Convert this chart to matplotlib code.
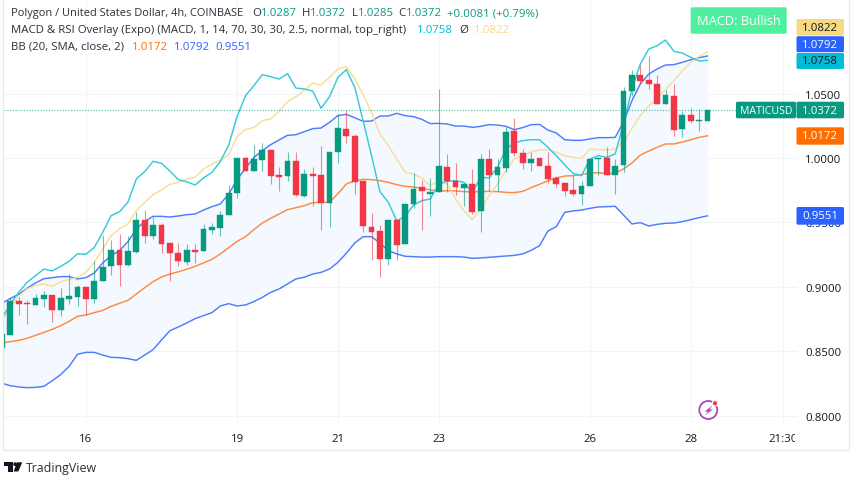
import matplotlib
matplotlib.use('Agg')
import matplotlib.pyplot as plt
from matplotlib.patches import Circle, FancyBboxPatch, Polygon
from matplotlib.transforms import Bbox

plt.rcParams['font.family'] = ['Open Sans', 'DejaVu Sans']

open_ = [.8522, .8628, .8890, .8874, .8861, .8908, .8936, .8820, .8908, .8923,
         .9001, .8903, .9042, .9159, .9286, .9172, .9268, .9521, .9394, .9482,
         .9340, .9262, .9195, .9286, .9275, .9444, .9459, .9555, .9731, 1.0003,
         .9899, .9987, 1.0060, .9865, .9858, .9977, .9708, .9876, .9865, .9648,
         1.0049, 1.0228, 1.0173, .9819, .9467, .9433, .9216, .9516, .9332, .9643,
         .9772, .9723, .9733, .9933, .9821, .9770, .9798, .9586, .9992, .9871,
         .9925, 1.0210, 1.0041, .9959, .9997, .9940, .9842, .9803, .9749, .9723,
         .9785, .9992, .9997, .9871, .9946, 1.0520, 1.0644, 1.0603, 1.0577, 1.0417,
         1.0481, 1.0225, 1.0331, 1.0290, 1.0287]
close = [.8631, .8887, .8866, .8866, .8910, .8936, .8820, .8913, .8926, .8998,
         .8905, .9045, .9154, .9286, .9169, .9275, .9516, .9394, .9480, .9335,
         .9260, .9200, .9286, .9273, .9446, .9464, .9557, .9731, 1.0000, .9902,
         .9992, 1.0060, .9863, .9852, .9977, .9710, .9876, .9860, .9651, 1.0047,
         1.0233, 1.0168, .9816, .9469, .9425, .9216, .9516, .9325, .9643, .9762,
         .9744, .9736, .9938, .9819, .9775, .9798, .9583, .9992, .9865, .9928,
         1.0202, 1.0039, .9961, .9990, .9940, .9840, .9801, .9746, .9720, .9785,
         .9992, .9997, .9871, .9940, 1.0518, 1.0644, 1.0600, 1.0572, 1.0417, 1.0489,
         1.0220, 1.0336, 1.0290, 1.0292, 1.0372]
high = [.8640, .8910, .8918, .8895, .8944, .8965, .8938, .8988, .9099, .9014,
        .9009, .9198, .9402, .9363, .9407, .9392, .9578, .9596, .9539, .9493,
        .9340, .9337, .9332, .9330, .9488, .9495, .9589, .9790, 1.0000, 1.0010,
        1.0101, 1.0114, 1.0065, .9928, 1.0047, 1.0047, .9915, .9930, 1.0091, 1.0047,
        1.0342, 1.0373, 1.0184, .9819, .9573, .9480, .9516, .9516, .9643, .9881,
        .9832, .9845, 1.0536, 1.0031, .9961, .9798, .9915, 1.0031, 1.0070, .9992,
        1.0238, 1.0313, 1.0070, 1.0047, .9997, 1.0044, .9858, .9816, .9868, .9824,
        .9992, .9997, 1.0083, .9992, 1.0554, 1.0683, 1.0722, 1.0795, 1.0647, 1.0528,
        1.0575, 1.0362, 1.0386, 1.0383, 1.0372]
low = [.8510, .8628, .8784, .8709, .8858, .8841, .8724, .8773, .8866, .8854,
       .8784, .8872, .9042, .9094, .9009, .9159, .9262, .9337, .9369, .9262,
       .9048, .9159, .9172, .9185, .9275, .9410, .9397, .9555, .9689, .9902,
       .9899, .9902, .9798, .9741, .9819, .9708, .9695, .9625, .9444, .9462,
       .9959, 1.0114, .9718, .9423, .9208, .9079, .9172, .9208, .9332, .9609,
       .9441, .9552, .9733, .9733, .9715, .9630, .9568, .9428, .9746, .9741,
       .9889, 1.0018, .9917, .9902, .9940, .9806, .9764, .9702, .9708, .9638,
       .9785, .9868, .9871, .9723, .9894, 1.0484, 1.0575, 1.0536, 1.0417, 1.0417,
       1.0168, 1.0163, 1.0269, 1.0212, 1.0285]

bb_upper = [.8872, .8910, .8942, .8988, .9030, .9063, .9071, .9079, .9079, .9061,
            .9071, .9107, .9185, .9242, .9281, .9350, .9449, .9508, .9547, .9547,
            .9542, .9550, .9560, .9565, .9596, .9622, .9643, .9720, .9832, .9920,
            1.0005, 1.0057, 1.0104, 1.0140, 1.0176, 1.0181, 1.0204, 1.0228, 1.0233, 1.0277,
            1.0329, 1.0339, 1.0313, 1.0285, 1.0287, 1.0326, 1.0326, 1.0347, 1.0329, 1.0321,
            1.0300, 1.0267, 1.0269, 1.0264, 1.0248, 1.0248, 1.0238, 1.0246, 1.0259, 1.0256,
            1.0246, 1.0220, 1.0236, 1.0259, 1.0261, 1.0217, 1.0194, 1.0142, 1.0137, 1.0137,
            1.0148, 1.0158, 1.0158, 1.0160, 1.0277, 1.0445, 1.0575, 1.0652, 1.0691, 1.0722,
            1.0725, 1.0743, 1.0763, 1.0779, 1.0792]
bb_mid = [.8564, .8574, .8584, .8600, .8623, .8646, .8670, .8698, .8732, .8771,
          .8781, .8799, .8817, .8848, .8872, .8895, .8944, .8993, .9040, .9076,
          .9099, .9117, .9136, .9159, .9185, .9213, .9255, .9304, .9353, .9389,
          .9444, .9495, .9532, .9565, .9599, .9614, .9630, .9653, .9656, .9656,
          .9723, .9798, .9824, .9834, .9832, .9824, .9811, .9793, .9780, .9775,
          .9764, .9752, .9744, .9746, .9744, .9739, .9736, .9739, .9741, .9739,
          .9733, .9731, .9741, .9770, .9796, .9824, .9845, .9860, .9863, .9871,
          .9884, .9886, .9878, .9881, .9915, .9961, 1.0023, 1.0054, 1.0083, 1.0109,
          1.0109, 1.0124, 1.0142, 1.0160, 1.0172]
bb_lower = [.8251, .8232, .8222, .8217, .8219, .8227, .8271, .8318, .8382, .8476,
            .8491, .8491, .8470, .8452, .8450, .8442, .8429, .8470, .8512, .8587,
            .8659, .8688, .8719, .8753, .8776, .8799, .8851, .8869, .8851, .8859,
            .8885, .8918, .8957, .8983, .9022, .9061, .9074, .9099, .9112, .9138,
            .9190, .9260, .9340, .9389, .9389, .9340, .9281, .9255, .9237, .9234,
            .9231, .9231, .9234, .9234, .9234, .9231, .9221, .9224, .9229, .9234,
            .9239, .9244, .9255, .9283, .9319, .9433, .9467, .9578, .9589, .9596,
            .9609, .9620, .9622, .9625, .9557, .9488, .9498, .9472, .9485, .9493,
            .9495, .9506, .9521, .9537, .9551]
macd_line = [.8755, .8866, .8957, .9035, .9086, .9138, .9123, .9159, .9198, .9257,
             .9252, .9306, .9423, .9552, .9583, .9656, .9837, .9894, .9974, .9959,
             .9899, .9832, .9816, .9790, .9845, .9889, .9972, 1.0101, 1.0323, 1.0484,
             1.0562, 1.0647, 1.0631, 1.0613, 1.0655, 1.0543, 1.0536, 1.0520, 1.0386, 1.0476,
             1.0626, 1.0686, 1.0549, 1.0290, 1.0018, .9739, .9656, .9513, .9547, .9635,
             .9669, .9682, .9798, .9819, .9824, .9811, .9733, .9850, .9845, .9928,
             1.0070, 1.0116, 1.0135, 1.0142, 1.0142, 1.0083, 1.0018, .9946, .9881, .9863,
             .9992, 1.0018, 1.0005, 1.0031, 1.0264, 1.0536, 1.0730, 1.0846, 1.0872, 1.0916,
             1.0828, 1.0815, 1.0782, 1.0753, 1.0758]
signal_line = [.8737, .8841, .8926, .8983, .9009, .9022, .9004, .9040, .9055, .9074,
               .9112, .9190, .9293, .9397, .9449, .9488, .9591, .9656, .9715, .9752,
               .9796, .9811, .9837, .9850, .9915, .9953, .9984, 1.0023, 1.0168, 1.0220,
               1.0238, 1.0290, 1.0303, 1.0362, 1.0437, 1.0476, 1.0523, 1.0582, 1.0567, 1.0626,
               1.0691, 1.0709, 1.0618, 1.0492, 1.0355, 1.0186, 1.0096, .9992, .9889, .9876,
               .9842, .9785, .9824, .9798, .9682, .9591, .9521, .9604, .9708, .9798,
               .9902, .9992, 1.0018, 1.0049, 1.0062, 1.0065, 1.0044, 1.0018, 1.0005, .9997,
               1.0070, 1.0065, 1.0062, 1.0070, 1.0122, 1.0230, 1.0329, 1.0406, 1.0463, 1.0530,
               1.0600, 1.0678, 1.0743, 1.0789, 1.0822]

price_ticks = [0.80, 0.85, 0.90, 0.95, 1.00, 1.05]
time_ticks = [10, 28, 40, 52, 70, 82, 93]
time_labels = ['16', '19', '21', '23', '26', '28', '21:30']

green = '#089981'
red = '#F23645'
text_col = '#131722'
idx = list(range(len(close)))

fig = plt.figure(figsize=(8.52, 4.85), dpi=100)
ax = fig.add_axes([3.5 / 852, 1 - 424 / 485, 793.5 / 852, 424 / 485])
ax.set_xlim(0.19, 94.65)
ax.set_ylim(0.79425, 1.12345)

ax.fill_between(idx, bb_lower, bb_upper, color='#F3F9FE', lw=0, zorder=1)
ax.plot(idx, bb_upper, color='#4F7DFF', lw=1.05, zorder=2)
ax.plot(idx, bb_lower, color='#4F7DFF', lw=1.05, zorder=2)
ax.plot(idx, bb_mid, color='#FF8A3C', lw=1.05, zorder=2)
ax.plot(idx, signal_line, color='#F9DE96', lw=1.05, zorder=2)
ax.plot(idx, macd_line, color='#35CADB', lw=1.05, zorder=2)

for i in idx:
    up = close[i] >= open_[i]
    col = green if up else red
    ax.vlines(i, low[i], high[i], color=col, lw=0.8, alpha=0.6, zorder=3)
    ax.bar(i, abs(close[i] - open_[i]), bottom=min(open_[i], close[i]), width=0.68,
           color=col, edgecolor=col, lw=0.3, zorder=4)

ax.axhline(close[-1], color=green, lw=0.8, ls=(0, (1, 1.5)), alpha=0.7, zorder=3)

ax.set_xticks(time_ticks)
ax.set_xticklabels(time_labels)
ax.set_yticks(price_ticks)
ax.set_yticklabels(['%.4f' % p for p in price_ticks])
ax.yaxis.tick_right()
ax.grid(True, color='#F2F4F8', lw=0.8)
ax.set_axisbelow(True)
ax.tick_params(axis='both', length=0, labelsize=8.2, labelcolor=text_col)
ax.tick_params(axis='x', pad=7)
ax.tick_params(axis='y', pad=6)
for s in ax.spines.values():
    s.set_visible(False)
ax.patch.set_alpha(0)
for lab in ax.get_yticklabels():
    lab.set_ha('left')

# the last time label is cut off by the price scale
clip = Bbox([[0, 0], [795, 485]])
for lab in ax.get_xticklabels():
    lab.set_clip_box(clip)
    lab.set_clip_on(True)

# overlay in pixels for legend, price tags, logo
ov = fig.add_axes([0, 0, 1, 1], zorder=10)
ov.set_xlim(0, 852)
ov.set_ylim(485, 0)
ov.axis('off')

ov.plot([3.2, 3.2, 849, 849], [0, 450.5, 450.5, 0], color='#E6E8EC', lw=0.9)


def legend(x, y, s, col, size=8.2):
    ov.text(x, y, s, color=col, fontsize=size, ha='left', va='center')


legend(11.4, 13.5, 'Polygon / United States Dollar, 4h, COINBASE', '#2A2E39', 7.93)
for x, s in [(252.5, 'O'), (301.8, 'H'), (351.8, 'L'), (398.6, 'C')]:
    legend(x, 13.5, s, '#2A2E39')
for x, s in [(260.7, '1.0287'), (310, '1.0372'), (357.9, '1.0285'), (406, '1.0372'),
             (447, '+0.0081 (+0.79%)')]:
    legend(x, 13.5, s, green)
legend(11.4, 30.5, 'MACD & RSI Overlay (Expo) (MACD, 1, 14, 70, 30, 30, 2.5, normal, top_right)', '#2A2E39')
legend(417, 30.5, '1.0758', '#00BCD4')
legend(459.6, 30.5, 'Ø', '#2A2E39')
legend(474, 30.5, '1.0822', '#F7D982')
legend(11.4, 47, 'BB (20, SMA, close, 2)', '#2A2E39')
legend(132, 47, '1.0172', '#FF6D00')
legend(174, 47, '1.0792', '#2962FF')
legend(215, 47, '0.9551', '#2962FF')


def tag(x0, x1, y0, y1, s, bg, fg, size=8.2):
    ov.add_patch(FancyBboxPatch((x0, y0), x1 - x0, y1 - y0, boxstyle='round,pad=0,rounding_size=1.5',
                                fc=bg, ec='none', zorder=5))
    ov.text((x0 + x1) / 2, (y0 + y1) / 2, s, color=fg, fontsize=size, ha='center', va='center', zorder=6)


tag(796.5, 844, 20, 36.5, '1.0822', '#F7D982', text_col)
tag(796.5, 844, 37.2, 53.2, '1.0792', '#2962FF', 'white')
tag(796.5, 844, 54, 70, '1.0758', '#00BCD4', text_col)
tag(736, 796, 102.7, 119.3, 'MATICUSD', green, 'white', 7.6)
tag(796.5, 844, 102.7, 119.3, '1.0372', green, 'white')
tag(796.5, 844, 128.3, 145.7, '1.0172', '#FF6D00', 'white')
tag(796.5, 844, 208, 225.7, '0.9551', '#2962FF', 'white')
tag(690.7, 786.7, 8.3, 34.7, 'MACD: Bullish', '#4FEFA0', 'white', 9.3)

# flash icon
ov.add_patch(Circle((708.3, 411), 9, fc='white', ec='#AB47BC', lw=1.3, zorder=5))
ov.add_patch(Polygon([[712.5, 406.5], [704.5, 412.5], [708, 412.5], [704.5, 416.5], [713, 410.5], [709.5, 410.5]],
                     fc='#AB47BC', ec='none', zorder=6))
ov.add_patch(Circle((715, 404.3), 2.7, fc='#F23645', ec='white', lw=0.8, zorder=7))

# TradingView logo
ov.add_patch(Polygon([[3.5, 463.3], [12.5, 463.3], [12.5, 472.5], [8, 472.5], [8, 467], [3.5, 467]],
                     fc=text_col, ec='none'))
ov.add_patch(Circle((15.2, 465.2), 1.9, fc=text_col, ec='none'))
ov.add_patch(Polygon([[17, 463.3], [22.3, 463.3], [18.3, 472.5], [13.6, 472.5]], fc=text_col, ec='none'))
ov.text(25.5, 468.5, 'TradingView', color='#2A2E39', fontsize=8.9, ha='left', va='center')

fig.savefig('out.png', dpi=100)
